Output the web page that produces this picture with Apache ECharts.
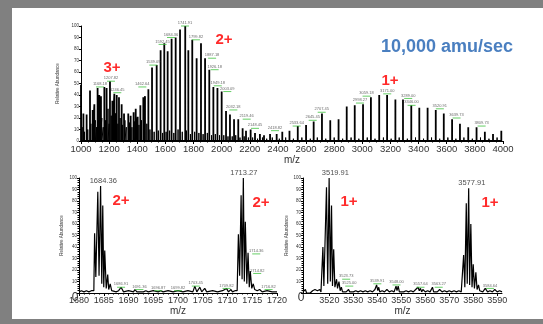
<!DOCTYPE html>
<html>
<head>
<meta charset="utf-8">
<script src="https://cdn.jsdelivr.net/npm/echarts@6/dist/echarts.min.js"></script>
<style>
  html, body { margin: 0; padding: 0; background: #fff; }
  #main { width: 543px; height: 324px; }
</style>
</head>
<body>
<div id="main"></div>
<script>
// full scan 1000-4000, main peaks [m/z, %]
const scanPeaks = [[1000,49],[1017,24],[1040,23],[1064,44],[1083,27],[1095,32],[1118,46],[1130,40],[1142,39],[1166,47],[1182,46],[1206,52],[1223,35],[1237,41],[1254,40],[1270,38],[1289,32],[1306,24],[1336,24],[1353,22],[1374,25],[1389,28],[1403,21],[1422,31],[1443,38],[1455,39],[1479,45],[1505,64],[1538,66],[1566,79],[1592,85],[1616,78],[1644,89],[1673,90],[1704,97],[1741,100],[1763,79],[1791,88],[1822,72],[1853,85],[1882,72],[1912,62],[1941,47],[1970,46],[2000,43],[2031,26],[2059,23],[2088,19],[2118,19],[2149,11],[2173,9],[2206,10],[2237,7],[2272,6],[2301,5],[2344,6],[2391,6],
  [2431,8],[2482,9],[2541,13],[2600,14],[2654,17],[2713,24],[2772,18],[2831,19],[2889,30],[2946,31],[3005,32],[3061,38],[3120,40],[3176,40],[3235,36],[3289,36],[3348,31],[3405,29],[3464,29],[3522,27],[3579,24],[3638,19],[3694,15],[3753,12],[3812,12],[3871,8],[3929,6],[3988,9]];
// small peaks / noise
const scanMinor = [[1008,12],[1025,8],[1048,10],[1070,15],[1088,9],[1102,18],[1110,12],[1125,25],[1137,14],[1148,20],[1158,12],[1175,18],[1192,28],[1200,15],[1215,22],[1230,18],[1245,24],[1262,15],[1278,20],[1295,14],[1312,18],[1322,12],[1345,16],[1362,12],[1382,17],[1396,10],[1412,14],[1430,18],[1448,12],[1468,15],[1490,10],[1520,8],[1550,9],[1580,7],[1605,8],[1630,9],[1660,7],[1690,10],[1720,8],[1750,9],[1778,6],[1808,8],[1838,7],[1868,6],[1898,7],[1928,5],[1955,6],[1985,5],[2015,5],[2045,4],[2075,4],[2100,5],[2130,3],[2160,4],[2190,3],[2220,3],[2255,2],[2290,3],[2320,2],[2360,3],[2410,2],[2455,3],[2510,2],[2570,3],[2630,2],[2680,3],[2740,2],[2800,3],[2860,2],[2920,3],[2975,2],[3035,3],[3090,2],[3150,3],[3205,2],[3262,3],[3320,2],[3378,3],[3435,2],[3492,3],[3550,2],[3608,3],[3665,2],[3722,3],[3782,2],[3840,3],[3900,2],[3958,3]];
const scanLabels = [[1135,47,'1168.18'],[1213,52,'1207.82'],[1258,42,'1246.45'],[1436,47,'1462.64'],[1514,66,'1539.09'],[1580,84,'1592.45'],[1640,90,'1684.36'],[1739,100,'1741.91'],[1817,88,'1799.82'],[1932,72,'1887.18'],[1950,62,'1926.18'],[1972,48,'1949.18'],[2040,43,'2003.09'],[2083,27,'2032.18'],[2178,19,'2119.46'],[2237,11,'2148.45'],[2379,9,'2418.82'],[2533,13,'2533.64'],[2647,18,'2645.45'],[2711,25,'2707.45'],[2983,33,'2998.27'],[3030,39,'3059.18'],[3177,41,'3171.00'],[3326,37,'3289.00'],[3350,31,'3346.00'],[3551,28,'3520.91'],[3670,20,'3639.73'],[3848,13,'3809.73']];

// zoom 1680-1720 profile
const zoomA = [[1680,1],[1680.5,2],[1681,1],[1681.5,2],[1682,1],[1682.5,2],[1683,2],[1683.15,52],[1683.4,14],[1683.8,88],[1684.05,15],[1684.36,93],[1684.6,8],[1684.8,76],[1685,5],[1685.2,37],[1685.5,4],[1685.8,16],[1686,3],[1686.3,8],[1686.6,2],[1687,3],[1687.5,1],[1688,2],[1688.5,5],[1689,1],[1690,2],[1691,1],[1691.3,3],[1691.7,1],[1692,2],[1693,1],[1693.5,2],[1694,1],[1695,2],[1696,1],[1696.5,2],[1697,1],[1698,2],[1699,1],[1700,2],[1701,1],[1702,2],[1703,1],[1703.4,6],[1703.8,1],[1704.4,5],[1704.8,1],[1705.4,4],[1705.8,1],[1706,1],[1707,2],[1708,1],[1709,2],[1709.8,4],[1710.2,1],[1710.7,3],[1711,1],[1711.5,2],[1711.95,2],[1712.2,51],[1712.45,15],[1712.75,85],[1712.95,12],[1713.2,100],[1713.4,10],[1713.6,62],[1713.9,8],[1714.15,35],[1714.4,5],[1714.6,19],[1714.9,4],[1715.2,8],[1715.5,3],[1716,2],[1716.5,3],[1717,1],[1718,2],[1719,1],[1720,1]];
const zoomALabels = [[1688.5,5,'1686.91'],[1692.2,3,'1691.36'],[1696,2,'1696.87'],[1700,2,'1699.82'],[1703.6,6,'1703.45'],[1709.8,4,'1709.82'],[1715.8,34,'1714.36'],[1716,17,'1714.82'],[1718.3,3,'1716.82']];
const zoomABig = [[1684.9,93,'1684.36'],[1713.3,100,'1713.27']];

// zoom 3509-3592 profile
const zoomB = [[3509,1],[3510,3],[3510.5,0],[3511,1],[3512,0],[3513,2],[3513.5,1],[3514,3],[3515,2],[3516,3],[3516.5,1],[3517.3,40],[3517.7,6],[3518.8,92],[3519.3,8],[3519.9,100],[3520.4,10],[3520.9,76],[3521.3,6],[3521.8,38],[3522.3,5],[3523,12],[3523.4,4],[3524,10],[3524.5,2],[3525,5],[3525.5,1],[3526,2],[3527,1],[3528,3],[3528.5,1],[3529,2],[3530,1],[3531,2],[3532,1],[3533,2],[3534,1],[3535,2],[3536,1],[3537,2],[3538,1],[3539,3],[3539.7,7],[3540.2,2],[3540.6,5],[3541,1],[3542,2],[3543,1],[3544,3],[3545,1],[3546,2],[3547,1],[3547.8,6],[3548.2,2],[3548.7,6],[3549.2,1],[3550,2],[3551,1],[3552,2],[3553,1],[3554,2],[3555,1],[3556,3],[3557,5],[3557.5,2],[3558,4],[3558.5,1],[3559,3],[3560,1],[3561,2],[3562,1],[3563,5],[3563.5,1],[3564,2],[3565,1],[3566,3],[3567,1],[3568,2],[3569,1],[3570,2],[3571,1],[3572,2],[3573,1],[3574,2],[3575,1],[3575.5,2],[3576,33],[3576.5,5],[3577.1,78],[3577.5,8],[3578.1,91],[3578.5,7],[3579,60],[3579.5,5],[3580,25],[3580.5,4],[3581.1,18],[3581.6,3],[3582.2,7],[3582.7,2],[3583,3],[3584,1],[3585,4],[3586,1],[3587,2],[3588,1],[3589,3],[3590,1],[3591,2],[3592,1]];
const zoomBLabels = [[3527,12,'3523.73'],[3528.3,6,'3525.00'],[3540,8,'3539.91'],[3548,7,'3548.00'],[3558,5,'3557.64'],[3565.6,5,'3563.27'],[3587,4,'3584.64']];
const zoomBBig = [[3522.5,100,'3519.91'],[3579.4,91,'3577.91']];
const zoomBTicks = [3520,3530,3540,3550,3560,3570,3580,3590];

const FONT = 'Liberation Sans, Arial, sans-serif';
const RED = '#ff2b2b';

// stick spectrum: each peak drawn as a vertical line from the baseline
function sticks(list) {
    let pts = [];
    list.slice().sort((a, b) => a[0] - b[0]).forEach(p => {
        pts.push([p[0], 0], [p[0], p[1]], [p[0], 0]);
    });
    return pts;
}

function yAxisCfg(grid, gap, bigZero) {
    return {
        type: 'value', gridIndex: grid, min: 0, max: 100, interval: 10,
        name: 'Relative Abundance', nameLocation: 'middle', nameGap: gap,
        nameTextStyle: { fontSize: 4.5, color: '#333', fontFamily: FONT },
        axisLine: { show: true, lineStyle: { color: '#000', width: 1 } },
        axisTick: { show: true, length: 2, lineStyle: { color: '#000' } },
        minorTick: { show: bigZero, splitNumber: 5, length: 1.5, lineStyle: { color: '#000' } },
        splitLine: { show: false },
        axisLabel: {
            fontSize: 4.5, margin: 2, color: '#333', fontFamily: FONT,
            formatter: v => (bigZero && v === 0) ? '' : String(v)
        }
    };
}

function xAxisCfg(grid, min, max, interval, fontSize, gap) {
    return {
        type: 'value', gridIndex: grid, min: min, max: max, interval: interval,
        name: 'm/z', nameLocation: 'middle', nameGap: gap,
        nameTextStyle: { fontSize: 10, color: '#333', fontFamily: FONT },
        axisLine: { lineStyle: { color: '#000', width: 1 } },
        axisTick: { length: 3, lineStyle: { color: '#000' } },
        minorTick: { show: true, splitNumber: interval === 200 ? 4 : 5, length: 1.5, lineStyle: { color: '#000' } },
        splitLine: { show: false },
        axisLabel: {
            fontSize: fontSize, margin: 3, color: '#333', fontFamily: FONT,
            showMinLabel: true, showMaxLabel: true, hideOverlap: false,
            formatter: v => String(v)
        }
    };
}

function labelSeries(x, y, list, size, color, green) {
    return {
        type: 'scatter', xAxisIndex: x, yAxisIndex: y,
        data: list.map(l => [l[0], l[1], l[2]]),
        symbol: 'rect', symbolSize: green ? [8, 1] : 0,
        itemStyle: { color: '#3fc23f' },
        label: {
            show: true, position: 'top', distance: green ? 0.5 : 1,
            fontSize: size, color: color, fontFamily: FONT,
            formatter: p => p.value[2]
        },
        z: 5, silent: true
    };
}

let myChart = echarts.init(document.getElementById('main'));

let xB = xAxisCfg(2, 3509, 3592, null, 9, 9);
delete xB.interval;
xB.axisLabel.customValues = zoomBTicks;
xB.axisTick.customValues = zoomBTicks;
xB.minorTick = { show: false };

let option = {
    animation: false,
    backgroundColor: '#fff',
    grid: [
        { left: 81, top: 26, width: 422, height: 115 },
        { left: 79, top: 178, width: 198, height: 115 },
        { left: 303, top: 178, width: 199, height: 115 }
    ],
    xAxis: [
        xAxisCfg(0, 1000, 4000, 200, 9.5, 12),
        xAxisCfg(1, 1680, 1720, 5, 9, 9),
        xB
    ],
    yAxis: [
        yAxisCfg(0, 16, false),
        yAxisCfg(1, 15, true),
        yAxisCfg(2, 8, true)
    ],
    series: [
        {
            type: 'line', xAxisIndex: 0, yAxisIndex: 0, data: sticks(scanMinor),
            showSymbol: false, lineStyle: { color: '#000', width: 1 }, silent: true
        },
        {
            type: 'line', xAxisIndex: 0, yAxisIndex: 0, data: sticks(scanPeaks),
            showSymbol: false, lineStyle: { color: '#000', width: 1.8 }, silent: true
        },
        {
            type: 'line', xAxisIndex: 1, yAxisIndex: 1, data: zoomA,
            showSymbol: false, lineStyle: { color: '#000', width: 1.2 }, silent: true
        },
        {
            type: 'line', xAxisIndex: 2, yAxisIndex: 2, data: zoomB,
            showSymbol: false, lineStyle: { color: '#000', width: 1.2 }, silent: true
        },
        labelSeries(0, 0, scanLabels, 4, '#444', true),
        labelSeries(1, 1, zoomALabels, 4, '#444', true),
        labelSeries(2, 2, zoomBLabels, 4, '#444', true),
        labelSeries(1, 1, zoomABig, 7.5, '#222', false),
        labelSeries(2, 2, zoomBBig, 7.5, '#222', false)
    ],
    graphic: [
        // grey frame
        { type: 'rect', shape: { x: 0, y: 0, width: 543, height: 8 }, style: { fill: '#808080' } },
        { type: 'rect', shape: { x: 0, y: 0, width: 12, height: 324 }, style: { fill: '#808080' } },
        { type: 'rect', shape: { x: 0, y: 319, width: 543, height: 5 }, style: { fill: '#808080' } },
        // annotations
        { type: 'text', x: 447, y: 47, style: { text: '10,000 amu/sec', fill: '#4a7fc0', font: 'bold 18px ' + FONT, textAlign: 'center', textVerticalAlign: 'middle' } },
        { type: 'text', x: 112, y: 68, style: { text: '3+', fill: RED, font: 'bold 15px ' + FONT, textAlign: 'center', textVerticalAlign: 'middle' } },
        { type: 'text', x: 224, y: 40, style: { text: '2+', fill: RED, font: 'bold 15px ' + FONT, textAlign: 'center', textVerticalAlign: 'middle' } },
        { type: 'text', x: 390, y: 81, style: { text: '1+', fill: RED, font: 'bold 15px ' + FONT, textAlign: 'center', textVerticalAlign: 'middle' } },
        { type: 'text', x: 121, y: 201, style: { text: '2+', fill: RED, font: 'bold 15px ' + FONT, textAlign: 'center', textVerticalAlign: 'middle' } },
        { type: 'text', x: 261, y: 203, style: { text: '2+', fill: RED, font: 'bold 15px ' + FONT, textAlign: 'center', textVerticalAlign: 'middle' } },
        { type: 'text', x: 349, y: 202, style: { text: '1+', fill: RED, font: 'bold 15px ' + FONT, textAlign: 'center', textVerticalAlign: 'middle' } },
        { type: 'text', x: 490, y: 203, style: { text: '1+', fill: RED, font: 'bold 15px ' + FONT, textAlign: 'center', textVerticalAlign: 'middle' } },
        // big zero at the origin of the lower panels
        { type: 'text', x: 75, y: 298, style: { text: '0', fill: '#333', font: '12px ' + FONT, textAlign: 'center', textVerticalAlign: 'middle' } },
        { type: 'text', x: 301, y: 298, style: { text: '0', fill: '#333', font: '12px ' + FONT, textAlign: 'center', textVerticalAlign: 'middle' } }
    ]
};

myChart.setOption(option);
</script>
</body>
</html>
